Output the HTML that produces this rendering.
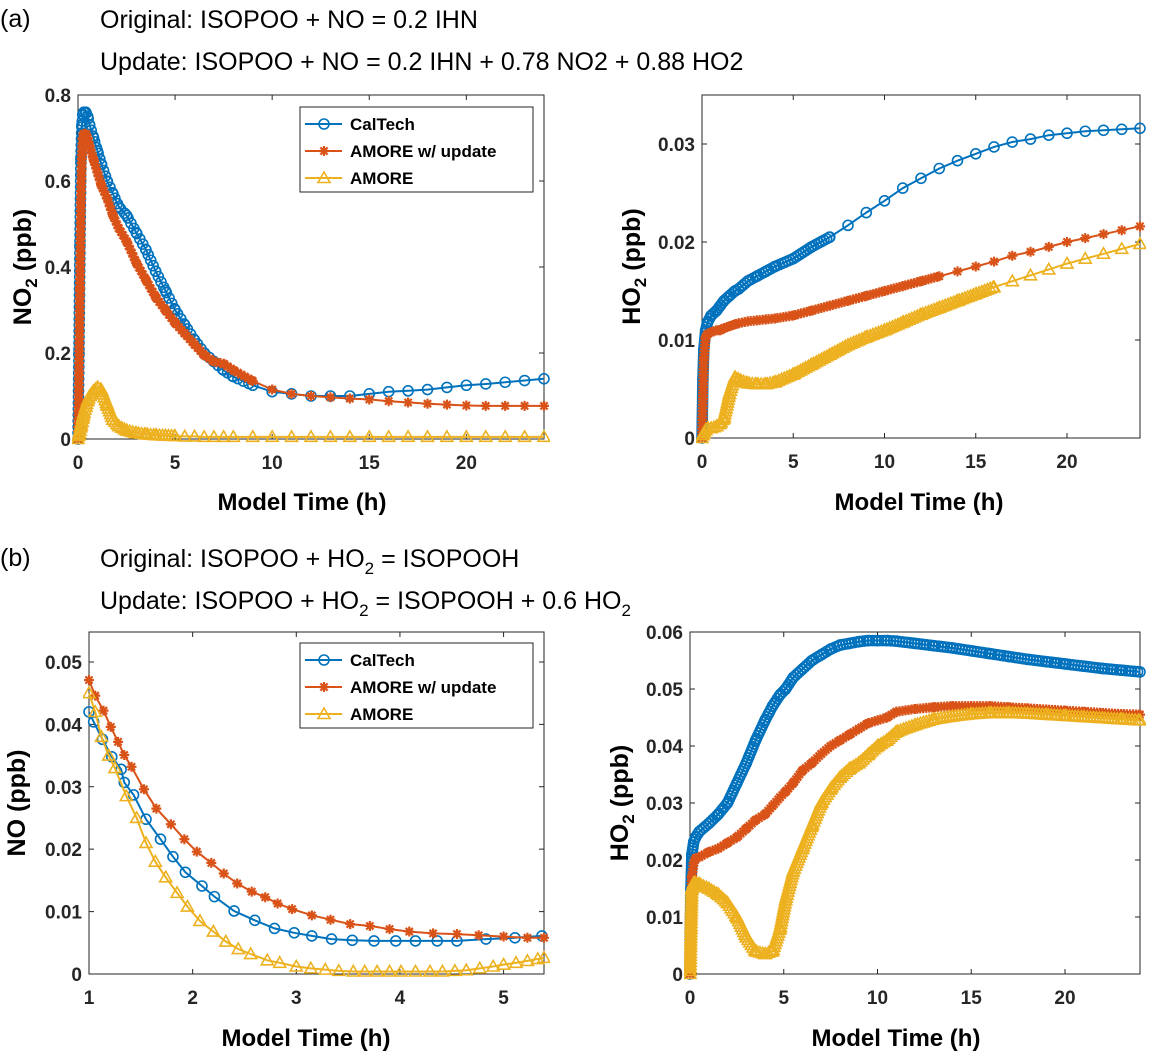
<!DOCTYPE html>
<html><head><meta charset="utf-8"><style>
html,body{margin:0;padding:0;background:#fff;}
svg text{font-family:"Liberation Sans",Arial,sans-serif;}
</style></head><body>
<svg id="fig" width="1150" height="1055" viewBox="0 0 1150 1055" xmlns="http://www.w3.org/2000/svg">
<g font-size="25" fill="#000">
<text x="0" y="27">(a)</text>
<text x="100" y="28">Original: ISOPOO + NO = 0.2 IHN</text>
<text x="100" y="70">Update: ISOPOO + NO = 0.2 IHN + 0.78 NO2 + 0.88 HO2</text>
</g>
<g font-size="25" fill="#000">
<text x="0" y="566">(b)</text>
<text x="100" y="567">Original: ISOPOO + HO<tspan font-size="17" dy="7">2</tspan><tspan dy="-7"> = ISOPOOH</tspan></text>
<text x="100" y="609">Update: ISOPOO + HO<tspan font-size="17" dy="7">2</tspan><tspan dy="-7"> = ISOPOOH + 0.6 HO</tspan><tspan font-size="17" dy="7">2</tspan></text>
</g>
</svg>
<script>
// ---- Panel (a) left: NO2 ----
const tA1 = [0,0.05,0.1,0.15,0.2,0.25,0.3,0.4,0.5,0.6,0.8,1.0,1.2,1.5,1.8,2.1,2.5,3.0,3.5,4.0,4.5,5.0,5.5,6.0,6.5,7.0,7.5,8.0,9.0,10,11,12,13,14,15,16,17,18,19,20,21,22,23,24];
const no2Cal = [0,0.2,0.45,0.65,0.73,0.755,0.76,0.76,0.75,0.73,0.70,0.67,0.64,0.60,0.57,0.54,0.52,0.48,0.44,0.39,0.345,0.30,0.265,0.23,0.20,0.18,0.16,0.145,0.125,0.11,0.105,0.10,0.10,0.10,0.105,0.11,0.112,0.115,0.12,0.125,0.128,0.132,0.136,0.14];
const no2Upd = [0,0.15,0.35,0.55,0.66,0.70,0.71,0.71,0.70,0.68,0.65,0.62,0.59,0.56,0.52,0.49,0.46,0.41,0.37,0.33,0.30,0.27,0.245,0.22,0.195,0.18,0.175,0.16,0.135,0.115,0.105,0.10,0.097,0.094,0.092,0.088,0.085,0.082,0.08,0.078,0.077,0.077,0.077,0.077];
const no2Amo = [0,0.01,0.02,0.03,0.04,0.05,0.06,0.075,0.09,0.10,0.112,0.12,0.115,0.08,0.045,0.03,0.02,0.014,0.011,0.009,0.008,0.007,0.006,0.006,0.005,0.005,0.005,0.005,0.005,0.005,0.005,0.005,0.005,0.005,0.005,0.005,0.005,0.005,0.005,0.005,0.005,0.005,0.005,0.005];
const xTicksA = [0,5,10,15,20];
const yTicksA1 = [0,0.2,0.4,0.6,0.8];
const yTickLabelsA1 = ["0","0.2","0.4","0.6","0.8"];

// ---- Panel (a) right: HO2 ----
const tA2 = [0,0.05,0.1,0.2,0.3,0.5,0.8,1.0,1.2,1.5,1.8,2.0,2.5,3.0,3.5,4.0,5,6,7,8,9,10,11,12,13,14,15,16,17,18,19,20,21,22,23,24];
const ho2aCal = [0,0.006,0.009,0.011,0.0118,0.0125,0.013,0.0135,0.014,0.0145,0.015,0.0152,0.016,0.0165,0.017,0.0175,0.0183,0.0195,0.0205,0.0217,0.023,0.0242,0.0255,0.0265,0.0275,0.0283,0.029,0.0297,0.0302,0.0305,0.0309,0.0311,0.0313,0.0314,0.0315,0.0316];
const ho2aUpd = [0,0.004,0.008,0.0103,0.0106,0.0108,0.011,0.011,0.0112,0.0114,0.0116,0.0117,0.0119,0.012,0.0121,0.0122,0.0125,0.013,0.0135,0.014,0.0145,0.015,0.0155,0.016,0.0165,0.017,0.0175,0.018,0.0186,0.019,0.0195,0.02,0.0204,0.0208,0.0212,0.0216];
const ho2aAmo = [0,0.0003,0.0005,0.0008,0.001,0.001,0.0012,0.0015,0.002,0.0045,0.0062,0.006,0.0056,0.0055,0.0055,0.0057,0.0065,0.0075,0.0085,0.0095,0.0103,0.011,0.0118,0.0126,0.0133,0.014,0.0147,0.0154,0.016,0.0166,0.0172,0.0178,0.0183,0.0188,0.0193,0.0198];
const yTicksA2 = [0,0.01,0.02,0.03];
const yTickLabelsA2 = ["0","0.01","0.02","0.03"];

// ---- Panel (b) left: NO ----
const tBcal = [1.0,1.045,1.13,1.22,1.31,1.34,1.43,1.55,1.69,1.81,1.93,2.09,2.21,2.40,2.60,2.79,2.98,3.15,3.34,3.54,3.75,3.96,4.15,4.36,4.55,4.83,5.11,5.37];
const noCal = [0.042,0.0404,0.0376,0.0348,0.0328,0.0307,0.0287,0.0248,0.0216,0.0188,0.0163,0.0141,0.0124,0.0101,0.0086,0.0073,0.0066,0.0061,0.0056,0.0054,0.0053,0.0053,0.0053,0.0053,0.0053,0.0056,0.0058,0.0061];
const tBupd = [1.00,1.06,1.14,1.21,1.28,1.34,1.41,1.53,1.65,1.79,1.92,2.04,2.18,2.30,2.43,2.57,2.70,2.82,2.96,3.15,3.33,3.52,3.71,3.90,4.09,4.32,4.55,4.76,5.00,5.23,5.39];
const noUpd = [0.0471,0.0446,0.0422,0.0396,0.0372,0.0351,0.0332,0.0296,0.0265,0.0240,0.0216,0.0196,0.0178,0.0161,0.0145,0.0132,0.0123,0.0113,0.0104,0.0094,0.0087,0.0080,0.0077,0.0072,0.0068,0.0065,0.0064,0.0062,0.0060,0.0058,0.0058];
const tBamo = [1.0,1.06,1.12,1.19,1.25,1.36,1.46,1.55,1.64,1.74,1.85,1.95,2.07,2.20,2.32,2.44,2.56,2.72,2.84,3.00,3.14,3.28,3.41,3.55,3.66,3.78,3.90,4.01,4.15,4.29,4.41,4.53,4.64,4.77,4.90,5.00,5.12,5.23,5.33,5.39];
const noAmo = [0.045,0.042,0.038,0.035,0.033,0.0285,0.025,0.021,0.018,0.0155,0.013,0.0108,0.0085,0.0068,0.0052,0.004,0.0032,0.0022,0.0018,0.0012,0.0009,0.0007,0.0005,0.0004,0.0004,0.0004,0.0004,0.0004,0.0004,0.0004,0.0004,0.0005,0.0006,0.0009,0.0012,0.0015,0.0018,0.0021,0.0024,0.0026];
const xTicksB1 = [1,2,3,4,5];
const yTicksB1 = [0,0.01,0.02,0.03,0.04,0.05];
const yTickLabelsB1 = ["0","0.01","0.02","0.03","0.04","0.05"];

// ---- Panel (b) right: HO2 ----
const tB2 = [0,0.05,0.1,0.2,0.3,0.5,1,1.5,2,2.5,3,3.5,4,4.4,4.8,5.1,5.5,6,6.5,7,7.5,8,8.5,9,9.5,10,10.5,11,12,13,14,15,16,17,18,19,20,21,22,23,24];
const ho2bCal = [0,0.015,0.021,0.0232,0.024,0.025,0.0264,0.028,0.030,0.0335,0.037,0.041,0.0445,0.047,0.049,0.050,0.052,0.0535,0.055,0.056,0.057,0.0577,0.058,0.0583,0.0585,0.0585,0.0585,0.0584,0.058,0.0576,0.0572,0.0567,0.0562,0.0557,0.0552,0.0548,0.0544,0.054,0.0536,0.0533,0.053];
const ho2bUpd = [0,0.012,0.017,0.0195,0.0203,0.0205,0.0214,0.022,0.023,0.024,0.0255,0.027,0.028,0.0295,0.031,0.032,0.0335,0.0357,0.037,0.0386,0.040,0.041,0.042,0.043,0.044,0.0445,0.045,0.046,0.0465,0.0468,0.047,0.047,0.047,0.0468,0.0466,0.0464,0.0462,0.046,0.0458,0.0456,0.0455];
const ho2bAmo = [0,0.008,0.015,0.016,0.016,0.0158,0.015,0.014,0.0125,0.010,0.0065,0.004,0.0035,0.004,0.008,0.013,0.018,0.022,0.026,0.030,0.0325,0.0345,0.036,0.037,0.0385,0.040,0.041,0.0425,0.0437,0.0447,0.0452,0.0456,0.0458,0.0458,0.0457,0.0455,0.0453,0.0451,0.0449,0.0447,0.0445];
const yTicksB2 = [0,0.01,0.02,0.03,0.04,0.05,0.06];
const yTickLabelsB2 = ["0","0.01","0.02","0.03","0.04","0.05","0.06"];

const seriesNames = ["CalTech","AMORE w/ update","AMORE"];
const BLUE="#0072BD", RED="#D95319", YEL="#EDB120";
const NS="http://www.w3.org/2000/svg";
const svg=document.getElementById('fig');
function mk(tag, attrs, parent){const e=document.createElementNS(NS,tag);for(const k in attrs)e.setAttribute(k,attrs[k]);(parent||svg).appendChild(e);return e;}

function marker(g, type, x, y, color){
  let m;
  if(type==='o'){ m=mk('circle',{cx:x,cy:y,r:5,fill:'none',stroke:color,'stroke-width':1.6},g); }
  else if(type==='*'){
    m=mk('path',{d:`M${x-5},${y}H${x+5}M${x},${y-5}V${y+5}M${x-3.6},${y-3.6}L${x+3.6},${y+3.6}M${x-3.6},${y+3.6}L${x+3.6},${y-3.6}`,stroke:color,'stroke-width':2.2,fill:'none'},g);
  } else {
    m=mk('path',{d:`M${x},${y-6}L${x+6},${y+4.5}L${x-6},${y+4.5}Z`,fill:'none',stroke:color,'stroke-width':1.6},g);
  }
  
  
}

function plot(cfg){
  const g=mk('g',{});
  
  
  const X=v=>cfg.L+(v-cfg.x0)/(cfg.x1-cfg.x0)*(cfg.R-cfg.L);
  const Y=v=>cfg.B-(v-cfg.y0)/(cfg.y1-cfg.y0)*(cfg.B-cfg.T);
  const clip='clip-'+cfg.name;
  const cp=mk('clipPath',{id:clip},g); mk('rect',{x:cfg.L-6,y:cfg.T-6,width:cfg.R-cfg.L+12,height:cfg.B-cfg.T+12},cp);
  const box=mk('rect',{x:cfg.L,y:cfg.T,width:cfg.R-cfg.L,height:cfg.B-cfg.T,fill:'#fff',stroke:'#262626','stroke-width':1},g);
  
  
  const tg=mk('g',{'font-size':19,'font-weight':'bold',fill:'#262626'},g);
  
  
  cfg.xt.forEach(v=>{
    const x=X(v);
    mk('path',{d:`M${x},${cfg.B}V${cfg.B-5}M${x},${cfg.T}V${cfg.T+5}`,stroke:'#262626','stroke-width':1},g);
    const t=mk('text',{x:x,y:cfg.B+30,'text-anchor':'middle'},tg); t.textContent=String(v);
    
    
  });
  cfg.yt.forEach((v,i)=>{
    const y=Y(v);
    mk('path',{d:`M${cfg.L},${y}H${cfg.L+5}M${cfg.R},${y}H${cfg.R-5}`,stroke:'#262626','stroke-width':1},g);
    const t=mk('text',{x:cfg.L-7,y:y+7,'text-anchor':'end'},tg); t.textContent=cfg.ytl[i];
    
    
  });
  const sg=mk('g',{'clip-path':`url(#${clip})`},g);
  cfg.series.forEach(s=>{
    const lg=mk('g',{},sg);
    
    
    const d=s.t.map((t,i)=>(i?'L':'M')+X(t).toFixed(1)+','+Y(s.v[i]).toFixed(1)).join('');
    mk('path',{d:d,fill:'none',stroke:s.c,'stroke-width':2},lg);
    // markers at every data point, plus dense solver-step markers along path where t < s.dense
    s.t.forEach((t,i)=>marker(lg,s.m,X(t),Y(s.v[i]),s.c));
    if(s.dense){
      let acc=0;
      for(let i=1;i<s.t.length;i++){
        if(s.t[i-1]>=s.dense) break;
        const x0=X(s.t[i-1]),y0=Y(s.v[i-1]),x1=X(s.t[i]),y1=Y(s.v[i]);
        const len=Math.hypot(x1-x0,y1-y0);
        let p=s.gap-acc;
        while(p<len){const f=p/len;marker(lg,s.m,x0+(x1-x0)*f,y0+(y1-y0)*f,s.c);p+=s.gap;}
        acc=len-(p-s.gap);
      }
    }
  });
  const xl=mk('text',{x:cfg.xlx,y:cfg.xly,'text-anchor':'middle','font-size':24,'font-weight':'bold',fill:'#000'},g);
  xl.textContent='Model Time (h)';
  
  
  const yl=mk('text',{transform:`translate(${cfg.ylx},${(cfg.T+cfg.B)/2}) rotate(-90)`,'text-anchor':'middle','font-size':25,'font-weight':'bold',fill:'#000'},g);
  yl.innerHTML=cfg.ylabel;
  
  
  if(cfg.legend){
    const [lx,ly]=cfg.legend;
    const lgg=mk('g',{},g);
    
    
    mk('rect',{x:lx,y:ly,width:233,height:85,fill:'#fff',stroke:'#262626','stroke-width':1},lgg);
    cfg.series.forEach((s,i)=>{
      const ey=ly+17+i*27;
      const e=mk('g',{},lgg);
      
      
      mk('path',{d:`M${lx+5},${ey}H${lx+42}`,stroke:s.c,'stroke-width':2},e);
      marker(e,s.m,lx+24,ey,s.c);
      const t=mk('text',{x:lx+50,y:ey+6,'font-size':17,'font-weight':'bold',fill:'#000'},e);
      t.textContent=seriesNames[i];
      
      
    });
  }
}
const NO2L='NO<tspan font-size="17" dy="6">2</tspan><tspan dy="-6">  (ppb)</tspan>';
const HO2L='HO<tspan font-size="17" dy="6">2</tspan><tspan dy="-6">  (ppb)</tspan>';
const HO2Lb='HO<tspan font-size="17" dy="6">2</tspan><tspan dy="-6"> (ppb)</tspan>';
plot({name:'chart-no2-a',L:78,R:544,T:95,B:439,x0:0,x1:24,y0:0,y1:0.8,xt:xTicksA,yt:yTicksA1,ytl:yTickLabelsA1,
  xlx:302,xly:510,ylx:31,ylabel:NO2L,legend:[300,107],
  series:[{key:'caltech',t:tA1,v:no2Cal,c:BLUE,m:'o',dense:9,gap:6},{key:'amore-update',t:tA1,v:no2Upd,c:RED,m:'*',dense:9,gap:4},{key:'amore',t:tA1,v:no2Amo,c:YEL,m:'^',dense:5,gap:3}]});
plot({name:'chart-ho2-a',L:702,R:1140,T:95,B:438,x0:0,x1:24,y0:0,y1:0.035,xt:xTicksA,yt:yTicksA2,ytl:yTickLabelsA2,
  xlx:919,xly:510,ylx:640,ylabel:HO2L,
  series:[{key:'caltech',t:tA2,v:ho2aCal,c:BLUE,m:'o',dense:7,gap:3},{key:'amore-update',t:tA2,v:ho2aUpd,c:RED,m:'*',dense:13,gap:3},{key:'amore',t:tA2,v:ho2aAmo,c:YEL,m:'^',dense:16,gap:3}]});
plot({name:'chart-no-b',L:89,R:544,T:632,B:974,x0:1,x1:5.39,y0:0,y1:0.0548,xt:xTicksB1,yt:yTicksB1,ytl:yTickLabelsB1,
  xlx:306,xly:1046,ylx:25,ylabel:'NO (ppb)',legend:[300,643],
  series:[{key:'caltech',t:tBcal,v:noCal,c:BLUE,m:'o'},{key:'amore-update',t:tBupd,v:noUpd,c:RED,m:'*'},{key:'amore',t:tBamo,v:noAmo,c:YEL,m:'^'}]});
plot({name:'chart-ho2-b',L:690,R:1140,T:632,B:974,x0:0,x1:24,y0:0,y1:0.06,xt:xTicksA,yt:yTicksB2,ytl:yTickLabelsB2,
  xlx:896,xly:1046,ylx:628,ylabel:HO2Lb,
  series:[{key:'caltech',t:tB2,v:ho2bCal,c:BLUE,m:'o',dense:25,gap:3},{key:'amore-update',t:tB2,v:ho2bUpd,c:RED,m:'*',dense:25,gap:3},{key:'amore',t:tB2,v:ho2bAmo,c:YEL,m:'^',dense:25,gap:3}]});
</script>
</body></html>
